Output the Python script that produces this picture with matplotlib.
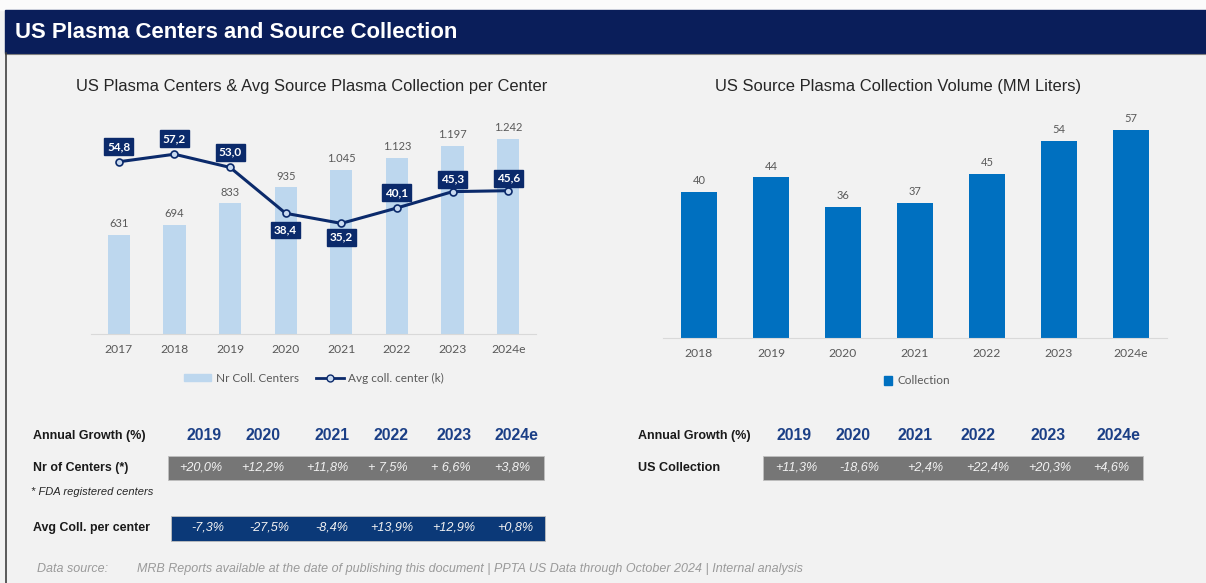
import numpy as np
import matplotlib.pyplot as plt
from matplotlib.patches import Rectangle, Patch
from matplotlib.lines import Line2D

# ---------------- data ----------------
years_left = ["2017", "2018", "2019", "2020", "2021", "2022", "2023", "2024e"]
nr_centers = [631, 694, 833, 935, 1045, 1123, 1197, 1242]
avg_coll = [54.8, 57.2, 53.0, 38.4, 35.2, 40.1, 45.3, 45.6]

years_right = ["2018", "2019", "2020", "2021", "2022", "2023", "2024e"]
collection = [40, 44, 36, 37, 45, 54, 57]

growth_years = ["2019", "2020", "2021", "2022", "2023", "2024e"]
centers_growth = ["+20,0%", "+12,2%", "+11,8%", "+ 7,5%", "+ 6,6%", "+3,8%"]
avg_growth = ["-7,3%", "-27,5%", "-8,4%", "+13,9%", "+12,9%", "+0,8%"]
coll_growth = ["+11,3%", "-18,6%", "+2,4%", "+22,4%", "+20,3%", "+4,6%"]

# ---------------- layout helpers ----------------
W, H = 1206, 583
def fx(x):
    return x / W
def fy(y):
    return 1 - y / H

NAVY = "#0B2A6B"
HEADER = "#0A1E5A"
LIGHT = "#BDD7EE"
BLUE = "#0070C0"
GREY_TXT = "#595959"
CHART_FONT = ["Lato", "DejaVu Sans"]
TFONT = "Liberation Sans"

fig = plt.figure(figsize=(W / 100, H / 100), dpi=100)
fig.patch.set_facecolor("#F2F2F2")

# background pieces
fig.patches.append(Rectangle((0, fy(10)), 1, 10 / H, transform=fig.transFigure,
                             color="#FBFBFB", zorder=0))
fig.patches.append(Rectangle((fx(5), fy(53)), 1, 43 / H, transform=fig.transFigure,
                             color=HEADER, zorder=0))
fig.lines.append(Line2D([fx(5), 1], [fy(53.5), fy(53.5)], transform=fig.transFigure,
                        color="#808080", lw=0.8))
fig.lines.append(Line2D([fx(5.5), fx(5.5)], [fy(53), 0], transform=fig.transFigure,
                        color="#404040", lw=1.2))

fig.text(fx(15), fy(32), "US Plasma Centers and Source Collection", color="white",
         fontsize=15.9, fontweight="bold", family=TFONT, va="center", ha="left")

# ---------------- left chart ----------------
ax1 = fig.add_axes([fx(91), fy(334), 445 / W, 220 / H])
ax1.set_facecolor("none")
x = np.arange(len(years_left))
bars = ax1.bar(x, nr_centers, width=0.4, color=LIGHT, zorder=2)
ax1.set_xlim(-0.5, len(years_left) - 0.5)
ax1.set_ylim(0, 1400)
ax1.bar_label(bars, labels=[f"{v:,}".replace(",", ".") for v in nr_centers],
              padding=4, fontsize=8, color=GREY_TXT, family=CHART_FONT)
ax1.set_xticks(x, years_left)
ax1.set_yticks([])
for s in ["top", "left", "right"]:
    ax1.spines[s].set_visible(False)
ax1.spines["bottom"].set_color("#D9D9D9")
ax1.tick_params(axis="x", length=0, pad=7, labelsize=8.7, labelcolor=GREY_TXT)
for t in ax1.get_xticklabels():
    t.set_family(CHART_FONT)

ax2 = ax1.twinx()
ax2.set_ylim(0, 70)
ax2.plot(x, avg_coll, color=NAVY, lw=2.2, marker="o", markersize=5,
         markerfacecolor="#C9DAF0", markeredgecolor=NAVY, markeredgewidth=1.2, zorder=3)
ax2.set_yticks([])
for s in ax2.spines.values():
    s.set_visible(False)
offsets = [11, 11, 11, -12, -10, 11, 9, 9]
for i, v in enumerate(avg_coll):
    ax2.annotate(f"{v:.1f}".replace(".", ","), (i, v), xytext=(0, offsets[i]),
                 textcoords="offset points", ha="center", va="center",
                 color="white", fontweight="bold", fontsize=8.5, family=CHART_FONT,
                 bbox=dict(boxstyle="square,pad=0.25", fc=NAVY, ec=NAVY), zorder=4)

fig.text(fx(312), fy(86), "US Plasma Centers & Avg Source Plasma Collection per Center",
         fontsize=11.9, color="#262626", family=TFONT, ha="center", va="center")

fig.legend(handles=[Patch(color=LIGHT),
                    Line2D([], [], color=NAVY, lw=2, marker="o", markersize=5,
                           markerfacecolor="#C9DAF0", markeredgecolor=NAVY)],
           labels=["Nr Coll. Centers", "Avg coll. center (k)"],
           loc="center", bbox_to_anchor=(fx(314), fy(378)), ncol=2, frameon=False,
           prop={"family": CHART_FONT, "size": 8.5}, labelcolor=GREY_TXT,
           handlelength=2.3, handleheight=0.6, handletextpad=0.4, columnspacing=1.5)

# ---------------- right chart ----------------
ax3 = fig.add_axes([fx(663), fy(338), 504 / W, 219 / H])
ax3.set_facecolor("none")
xr = np.arange(len(years_right))
bars2 = ax3.bar(xr, collection, width=0.51, color=BLUE)
ax3.set_xlim(-0.5, len(years_right) - 0.5)
ax3.set_ylim(0, 60)
ax3.bar_label(bars2, padding=4, fontsize=8, color=GREY_TXT, family=CHART_FONT)
ax3.set_xticks(xr, years_right)
ax3.set_yticks([])
for s in ["top", "left", "right"]:
    ax3.spines[s].set_visible(False)
ax3.spines["bottom"].set_color("#D9D9D9")
ax3.tick_params(axis="x", length=0, pad=7, labelsize=8.7, labelcolor=GREY_TXT)
for t in ax3.get_xticklabels():
    t.set_family(CHART_FONT)

fig.text(fx(898), fy(86), "US Source Plasma Collection Volume (MM Liters)",
         fontsize=11.9, color="#262626", family=TFONT, ha="center", va="center")

fig.legend(handles=[Patch(color=BLUE)], labels=["Collection"],
           loc="center", bbox_to_anchor=(fx(917), fy(381)), frameon=False,
           prop={"family": CHART_FONT, "size": 8.5}, labelcolor=GREY_TXT,
           handlelength=0.7, handleheight=0.7, handletextpad=0.4)

# ---------------- growth tables ----------------
def row_box(x0, x1, y0, y1, color):
    fig.patches.append(Rectangle((fx(x0), fy(y1)), (x1 - x0) / W, (y1 - y0) / H,
                                 transform=fig.transFigure, fc=color, ec="#BFBFBF", lw=0.6))

def label(x, y, s, **kw):
    fig.text(fx(x), fy(y), s, va="center", family=TFONT, **kw)

# left table
label(33, 436, "Annual Growth (%)", fontsize=9, fontweight="bold", color="#1A1A1A")
for xp, s in zip([204, 263, 332, 391, 454, 516], growth_years):
    label(xp, 436, s, ha="center", fontsize=11.3, fontweight="bold", color="#1B3F86")

label(33, 468, "Nr of Centers (*)", fontsize=8.9, fontweight="bold", color="#1A1A1A")
row_box(168, 544, 456, 480, "#767676")
for xp, s in zip([201, 263, 327, 388, 451, 512], centers_growth):
    label(xp, 468, s, ha="center", fontsize=9.1, style="italic", color="#F2F2F2")
label(31, 492, "* FDA registered centers", fontsize=8, style="italic", color="#262626")

label(33, 528, "Avg Coll. per center", fontsize=8.9, fontweight="bold", color="#1A1A1A")
row_box(171, 545, 516, 541, "#0B3978")
for xp, s in zip([208, 269, 332, 392, 454, 515], avg_growth):
    label(xp, 528, s, ha="center", fontsize=9.1, style="italic", color="#F2F2F2")

# right table
label(638, 436, "Annual Growth (%)", fontsize=9, fontweight="bold", color="#1A1A1A")
for xp, s in zip([794, 853, 915, 978, 1048, 1118], growth_years):
    label(xp, 436, s, ha="center", fontsize=11.3, fontweight="bold", color="#1B3F86")
label(638, 468, "US Collection", fontsize=9.1, fontweight="bold", color="#1A1A1A")
row_box(763, 1143, 456, 480, "#767676")
for xp, s in zip([796, 859, 925, 988, 1050, 1111], coll_growth):
    label(xp, 468, s, ha="center", fontsize=9.1, style="italic", color="#F2F2F2")

# footer
label(37, 569, "Data source:", fontsize=9, style="italic", color="#9A9A9A")
label(137, 569, "MRB Reports available at the date of publishing this document | "
      "PPTA US Data through October 2024 | Internal analysis",
      fontsize=9, style="italic", color="#9A9A9A")

fig.savefig("out.png", dpi=100, facecolor=fig.get_facecolor())
